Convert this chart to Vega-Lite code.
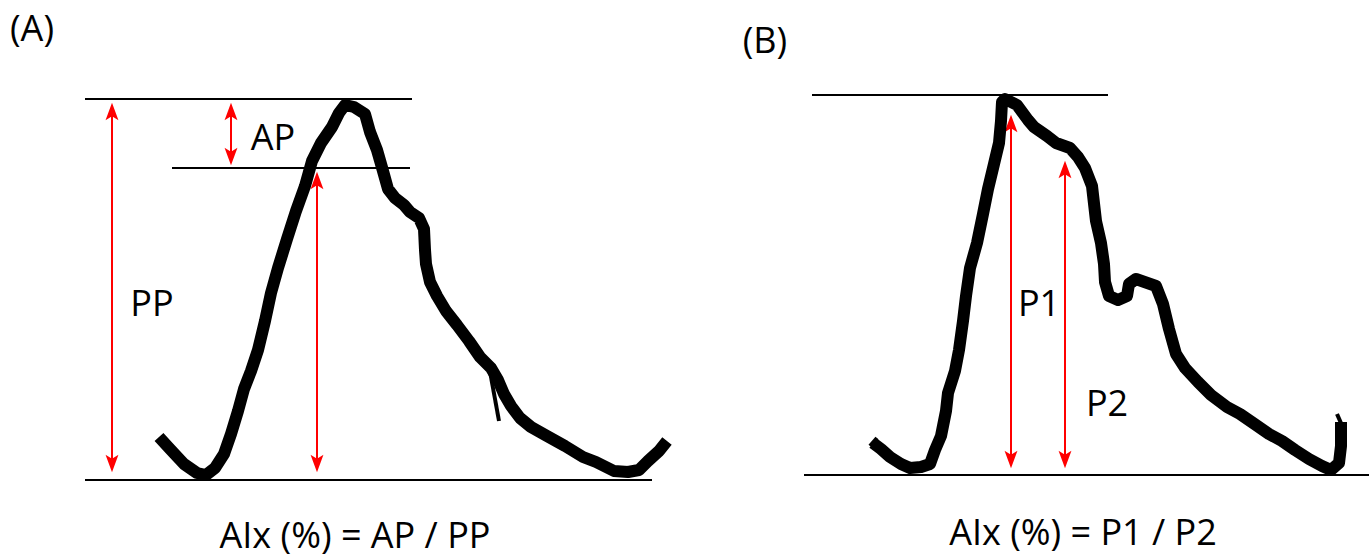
{
  "$schema": "https://vega.github.io/schema/vega-lite/v6.json",
  "width": 1371,
  "height": 560,
  "autosize": {"type": "fit", "contains": "padding"},
  "padding": 0,
  "background": "white",
  "config": {"view": {"stroke": null}},
  "datasets": {
    "curves": [
      {"panel": "A", "i": 1, "x": 159, "y": 437},
      {"panel": "A", "i": 2, "x": 170, "y": 449},
      {"panel": "A", "i": 3, "x": 184, "y": 464},
      {"panel": "A", "i": 4, "x": 197, "y": 473},
      {"panel": "A", "i": 5, "x": 206, "y": 475},
      {"panel": "A", "i": 6, "x": 215, "y": 468},
      {"panel": "A", "i": 7, "x": 224, "y": 454},
      {"panel": "A", "i": 8, "x": 231, "y": 434},
      {"panel": "A", "i": 9, "x": 238, "y": 411},
      {"panel": "A", "i": 10, "x": 244, "y": 389},
      {"panel": "A", "i": 11, "x": 251, "y": 371},
      {"panel": "A", "i": 12, "x": 258, "y": 350},
      {"panel": "A", "i": 13, "x": 265, "y": 321},
      {"panel": "A", "i": 14, "x": 271, "y": 293},
      {"panel": "A", "i": 15, "x": 278, "y": 268},
      {"panel": "A", "i": 16, "x": 287, "y": 239},
      {"panel": "A", "i": 17, "x": 296, "y": 211},
      {"panel": "A", "i": 18, "x": 305, "y": 186},
      {"panel": "A", "i": 19, "x": 312, "y": 161},
      {"panel": "A", "i": 20, "x": 321, "y": 143},
      {"panel": "A", "i": 21, "x": 332, "y": 127},
      {"panel": "A", "i": 22, "x": 339, "y": 113},
      {"panel": "A", "i": 23, "x": 345, "y": 105},
      {"panel": "A", "i": 24, "x": 354, "y": 107},
      {"panel": "A", "i": 25, "x": 365, "y": 114},
      {"panel": "A", "i": 26, "x": 370, "y": 132},
      {"panel": "A", "i": 27, "x": 377, "y": 150},
      {"panel": "A", "i": 28, "x": 383, "y": 171},
      {"panel": "A", "i": 29, "x": 388, "y": 189},
      {"panel": "A", "i": 30, "x": 395, "y": 198},
      {"panel": "A", "i": 31, "x": 404, "y": 205},
      {"panel": "A", "i": 32, "x": 410, "y": 212},
      {"panel": "A", "i": 33, "x": 419, "y": 218},
      {"panel": "A", "i": 34, "x": 424, "y": 229},
      {"panel": "A", "i": 35, "x": 425, "y": 250},
      {"panel": "A", "i": 36, "x": 426, "y": 264},
      {"panel": "A", "i": 37, "x": 430, "y": 282},
      {"panel": "A", "i": 38, "x": 437, "y": 296},
      {"panel": "A", "i": 39, "x": 446, "y": 311},
      {"panel": "A", "i": 40, "x": 457, "y": 325},
      {"panel": "A", "i": 41, "x": 469, "y": 341},
      {"panel": "A", "i": 42, "x": 480, "y": 357},
      {"panel": "A", "i": 43, "x": 491, "y": 368},
      {"panel": "A", "i": 44, "x": 498, "y": 380},
      {"panel": "A", "i": 45, "x": 504, "y": 394},
      {"panel": "A", "i": 46, "x": 511, "y": 406},
      {"panel": "A", "i": 47, "x": 520, "y": 418},
      {"panel": "A", "i": 48, "x": 531, "y": 427},
      {"panel": "A", "i": 49, "x": 547, "y": 436},
      {"panel": "A", "i": 50, "x": 565, "y": 446},
      {"panel": "A", "i": 51, "x": 583, "y": 457},
      {"panel": "A", "i": 52, "x": 596, "y": 462},
      {"panel": "A", "i": 53, "x": 614, "y": 471},
      {"panel": "A", "i": 54, "x": 628, "y": 472},
      {"panel": "A", "i": 55, "x": 639, "y": 470},
      {"panel": "A", "i": 56, "x": 648, "y": 461},
      {"panel": "A", "i": 57, "x": 659, "y": 451},
      {"panel": "A", "i": 58, "x": 667, "y": 441},
      {"panel": "B", "i": 1, "x": 873, "y": 443},
      {"panel": "B", "i": 2, "x": 881, "y": 449},
      {"panel": "B", "i": 3, "x": 890, "y": 457},
      {"panel": "B", "i": 4, "x": 901, "y": 464},
      {"panel": "B", "i": 5, "x": 910, "y": 468},
      {"panel": "B", "i": 6, "x": 921, "y": 467},
      {"panel": "B", "i": 7, "x": 930, "y": 464},
      {"panel": "B", "i": 8, "x": 935, "y": 450},
      {"panel": "B", "i": 9, "x": 941, "y": 436},
      {"panel": "B", "i": 10, "x": 946, "y": 411},
      {"panel": "B", "i": 11, "x": 948, "y": 393},
      {"panel": "B", "i": 12, "x": 955, "y": 371},
      {"panel": "B", "i": 13, "x": 959, "y": 350},
      {"panel": "B", "i": 14, "x": 963, "y": 321},
      {"panel": "B", "i": 15, "x": 966, "y": 296},
      {"panel": "B", "i": 16, "x": 970, "y": 268},
      {"panel": "B", "i": 17, "x": 977, "y": 243},
      {"panel": "B", "i": 18, "x": 983, "y": 214},
      {"panel": "B", "i": 19, "x": 988, "y": 189},
      {"panel": "B", "i": 20, "x": 994, "y": 164},
      {"panel": "B", "i": 21, "x": 999, "y": 143},
      {"panel": "B", "i": 22, "x": 1001, "y": 121},
      {"panel": "B", "i": 23, "x": 1002, "y": 102},
      {"panel": "B", "i": 24, "x": 1005, "y": 99},
      {"panel": "B", "i": 25, "x": 1017, "y": 105},
      {"panel": "B", "i": 26, "x": 1028, "y": 120},
      {"panel": "B", "i": 27, "x": 1034, "y": 127},
      {"panel": "B", "i": 28, "x": 1047, "y": 136},
      {"panel": "B", "i": 29, "x": 1056, "y": 143},
      {"panel": "B", "i": 30, "x": 1070, "y": 148},
      {"panel": "B", "i": 31, "x": 1078, "y": 157},
      {"panel": "B", "i": 32, "x": 1085, "y": 168},
      {"panel": "B", "i": 33, "x": 1092, "y": 186},
      {"panel": "B", "i": 34, "x": 1096, "y": 221},
      {"panel": "B", "i": 35, "x": 1101, "y": 243},
      {"panel": "B", "i": 36, "x": 1104, "y": 264},
      {"panel": "B", "i": 37, "x": 1105, "y": 282},
      {"panel": "B", "i": 38, "x": 1109, "y": 296},
      {"panel": "B", "i": 39, "x": 1118, "y": 300},
      {"panel": "B", "i": 40, "x": 1127, "y": 296},
      {"panel": "B", "i": 41, "x": 1129, "y": 284},
      {"panel": "B", "i": 42, "x": 1136, "y": 279},
      {"panel": "B", "i": 43, "x": 1156, "y": 286},
      {"panel": "B", "i": 44, "x": 1163, "y": 304},
      {"panel": "B", "i": 45, "x": 1169, "y": 329},
      {"panel": "B", "i": 46, "x": 1176, "y": 354},
      {"panel": "B", "i": 47, "x": 1185, "y": 368},
      {"panel": "B", "i": 48, "x": 1198, "y": 382},
      {"panel": "B", "i": 49, "x": 1211, "y": 395},
      {"panel": "B", "i": 50, "x": 1227, "y": 407},
      {"panel": "B", "i": 51, "x": 1240, "y": 414},
      {"panel": "B", "i": 52, "x": 1256, "y": 425},
      {"panel": "B", "i": 53, "x": 1269, "y": 434},
      {"panel": "B", "i": 54, "x": 1282, "y": 441},
      {"panel": "B", "i": 55, "x": 1295, "y": 450},
      {"panel": "B", "i": 56, "x": 1309, "y": 459},
      {"panel": "B", "i": 57, "x": 1322, "y": 466},
      {"panel": "B", "i": 58, "x": 1331, "y": 470},
      {"panel": "B", "i": 59, "x": 1339, "y": 463},
      {"panel": "B", "i": 60, "x": 1341, "y": 446},
      {"panel": "B", "i": 61, "x": 1341, "y": 422}
    ],
    "spikes": [
      {"s": "a", "i": 1, "x": 489, "y": 366},
      {"s": "a", "i": 2, "x": 499, "y": 421},
      {"s": "b", "i": 1, "x": 1337, "y": 414},
      {"s": "b", "i": 2, "x": 1344, "y": 430},
      {"s": "c", "i": 1, "x": 870, "y": 446},
      {"s": "c", "i": 2, "x": 877, "y": 438}
    ],
    "hlines": [
      {"x": 85, "x2": 412, "y": 99},
      {"x": 172, "x2": 410, "y": 168},
      {"x": 85, "x2": 652, "y": 480},
      {"x": 812, "x2": 1108, "y": 95},
      {"x": 804, "x2": 1369, "y": 475}
    ],
    "arrows": [
      {"x": 112, "y": 106, "y2": 469},
      {"x": 231, "y": 106, "y2": 162},
      {"x": 317, "y": 175, "y2": 469},
      {"x": 1011, "y": 118, "y2": 465},
      {"x": 1065, "y": 164, "y2": 465}
    ],
    "heads": [
      {"x": 112, "y": 112, "dir": "up"},
      {"x": 112, "y": 463, "dir": "down"},
      {"x": 231, "y": 112, "dir": "up"},
      {"x": 231, "y": 156, "dir": "down"},
      {"x": 317, "y": 181, "dir": "up"},
      {"x": 317, "y": 463, "dir": "down"},
      {"x": 1011, "y": 124, "dir": "up"},
      {"x": 1011, "y": 459, "dir": "down"},
      {"x": 1065, "y": 170, "dir": "up"},
      {"x": 1065, "y": 459, "dir": "down"}
    ],
    "labels": [
      {"x": 32, "y": 41, "label": "(A)"},
      {"x": 765, "y": 53, "label": "(B)"},
      {"x": 273, "y": 150, "label": "AP"},
      {"x": 152, "y": 316, "label": "PP"},
      {"x": 1039, "y": 316, "label": "P1"},
      {"x": 1107, "y": 416, "label": "P2"},
      {"x": 355, "y": 548, "label": "AIx (%) = AP / PP"},
      {"x": 1083, "y": 545, "label": "AIx (%) = P1 / P2"}
    ]
  },
  "layer": [
    {
      "data": {"name": "hlines"},
      "mark": {"type": "rule", "color": "black", "strokeWidth": 2},
      "encoding": {
        "x": {"field": "x", "type": "quantitative", "scale": {"domain": [0, 1371]}, "axis": null},
        "x2": {"field": "x2"},
        "y": {"field": "y", "type": "quantitative", "scale": {"domain": [0, 560], "reverse": true}, "axis": null},
        "y2": {"field": "y"}
      }
    },
    {
      "data": {"name": "arrows"},
      "mark": {"type": "rule", "color": "#ff0000", "strokeWidth": 2},
      "encoding": {
        "x": {"field": "x", "type": "quantitative", "scale": {"domain": [0, 1371]}, "axis": null},
        "y": {"field": "y", "type": "quantitative", "scale": {"domain": [0, 560], "reverse": true}, "axis": null},
        "y2": {"field": "y2"}
      }
    },
    {
      "data": {"name": "heads"},
      "mark": {"type": "point", "filled": true, "color": "#ff0000", "opacity": 1, "size": 340, "strokeWidth": 0},
      "encoding": {
        "x": {"field": "x", "type": "quantitative", "scale": {"domain": [0, 1371]}, "axis": null},
        "y": {"field": "y", "type": "quantitative", "scale": {"domain": [0, 560], "reverse": true}, "axis": null},
        "shape": {
          "field": "dir", "type": "nominal", "legend": null,
          "scale": {"domain": ["up", "down"], "range": ["M0,-1L0.7,0.9L0,0.45L-0.7,0.9Z", "M0,1L0.7,-0.9L0,-0.45L-0.7,-0.9Z"]}
        }
      }
    },
    {
      "data": {"name": "curves"},
      "mark": {"type": "line", "color": "black", "strokeWidth": 12, "strokeCap": "butt", "strokeJoin": "round"},
      "encoding": {
        "x": {"field": "x", "type": "quantitative", "scale": {"domain": [0, 1371]}, "axis": null},
        "y": {"field": "y", "type": "quantitative", "scale": {"domain": [0, 560], "reverse": true}, "axis": null},
        "detail": {"field": "panel"},
        "order": {"field": "i", "type": "quantitative"}
      }
    },
    {
      "data": {"name": "spikes"},
      "mark": {"type": "line", "color": "black", "strokeWidth": 4, "strokeCap": "butt"},
      "encoding": {
        "x": {"field": "x", "type": "quantitative", "scale": {"domain": [0, 1371]}, "axis": null},
        "y": {"field": "y", "type": "quantitative", "scale": {"domain": [0, 560], "reverse": true}, "axis": null},
        "detail": {"field": "s"},
        "order": {"field": "i", "type": "quantitative"}
      }
    },
    {
      "data": {"name": "labels"},
      "mark": {"type": "text", "font": "Open Sans", "fontSize": 36, "color": "black", "align": "center", "baseline": "alphabetic"},
      "encoding": {
        "x": {"field": "x", "type": "quantitative", "scale": {"domain": [0, 1371]}, "axis": null},
        "y": {"field": "y", "type": "quantitative", "scale": {"domain": [0, 560], "reverse": true}, "axis": null},
        "text": {"field": "label"}
      }
    }
  ]
}
